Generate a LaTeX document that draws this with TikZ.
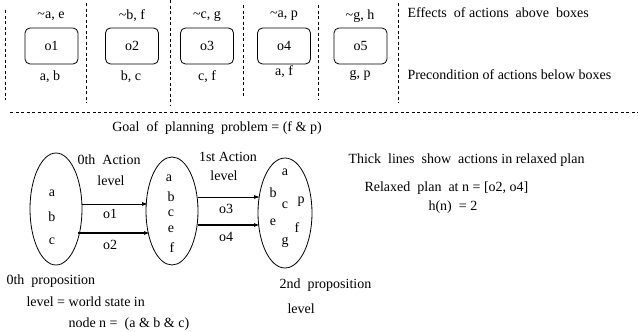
\documentclass[tikz,border=0pt]{standalone}
\usepackage{fontspec}
\setmainfont{Liberation Serif}
\usetikzlibrary{shapes.geometric,arrows.meta}

\tikzset{
  opbox/.style={draw, line width=0.8pt, rounded corners=5pt, minimum width=53pt, minimum height=36pt, inner sep=0pt},
  proplevel/.style={draw, line width=0.8pt, ellipse, inner sep=0pt},
  divider/.style={dash pattern=on 3pt off 2.5pt, line width=0.7pt},
  actarrow/.style={-{Latex[length=6pt,width=4pt]}, line width=0.8pt},
  relaxed/.style={-{Latex[length=6pt,width=4pt]}, line width=1.6pt},
}

\begin{document}
\begin{tikzpicture}[x=1pt, y=-1pt, font=\fontsize{14}{16}\selectfont]
  \useasboundingbox (0,0) rectangle (638,332);

  % top row: actions with effects and preconditions
  \draw[divider] (5,10) -- (5,100);
  \draw[divider] (86,3) -- (86,103);
  \draw[divider] (170,0) -- (170,105);
  \draw[divider] (243,5) -- (243,97);
  \draw[divider] (318,5) -- (318,100);
  \draw[divider] (398,3) -- (398,103);

  \node[opbox] (o1) at (51.5,46) {o1};
  \node[opbox] (o2) at (132,46) {o2};
  \node[opbox] (o3) at (207,46) {o3};
  \node[opbox] (o4) at (284,46) {o4};
  \node[opbox] (o5) at (360.5,46) {o5};

  \node (eff1) at (51,16) {\textasciitilde a, e};
  \node (eff2) at (132,16) {\textasciitilde b,\ f};
  \node (eff3) at (207,16) {\textasciitilde c,\ g};
  \node (eff4) at (284,16) {\textasciitilde a,\ p};
  \node (eff5) at (360,16) {\textasciitilde g,\ h};

  \node (pre1) at (50,77) {a,\ b};
  \node (pre2) at (131,77) {b,\ c};
  \node (pre3) at (207,77) {c,\ f};
  \node (pre4) at (284,72) {a,\ f};
  \node (pre5) at (360,75) {g,\ p};

  \node[anchor=west] (effnote) at (404,13) {Effects\ \ of actions\ \ above\ \ boxes};
  \node[anchor=west] (prenote) at (404,75) {Precondition of actions below boxes};

  \draw[divider] (10,112) -- (638,112);

  \node (goal) at (217,128) {Goal\ \ of\ \ planning\ \ problem = (f \& p)};

  % relaxed planning graph
  \node[proplevel, minimum width=52pt, minimum height=112pt] (p0) at (56,209) {};
  \node[proplevel, minimum width=52pt, minimum height=108pt] (p1) at (172,211) {};
  \node[proplevel, minimum width=54pt, minimum height=110pt] (p2) at (285,213) {};

  \node (p0a) at (52,193) {a};
  \node (p0b) at (52,217) {b};
  \node (p0c) at (52,241) {c};

  \node (p1a) at (169,178) {a};
  \node (p1b) at (171,197) {b};
  \node (p1c) at (171,213) {c};
  \node (p1e) at (171,229) {e};
  \node (p1f) at (172,248) {f};

  \node (p2a) at (285,172) {a};
  \node (p2b) at (273,193) {b};
  \node (p2c) at (285,205) {c};
  \node (p2p) at (301,202) {p};
  \node (p2e) at (273,222) {e};
  \node (p2f) at (297,228) {f};
  \node (p2g) at (285,242) {g};

  \coordinate (o1s) at (82,204);
  \coordinate (o1e) at (148,204);
  \coordinate (o2s) at (78,233);
  \coordinate (o2e) at (150,233);
  \coordinate (o3s) at (198,197);
  \coordinate (o3e) at (260,197);
  \coordinate (o4s) at (198,225);
  \coordinate (o4e) at (260,225);
  \draw[actarrow] (o1s) -- (o1e);
  \draw[relaxed] (o2s) -- (o2e);
  \draw[actarrow] (o3s) -- (o3e);
  \draw[relaxed] (o4s) -- (o4e);

  \node (act0) at (109,160) {0th\ \ Action};
  \node (act0lvl) at (111,181) {level};
  \node (lo1) at (110,214) {o1};
  \node (lo2) at (110,245) {o2};
  \node (act1) at (228,157) {1st Action};
  \node (act1lvl) at (224,176) {level};
  \node (lo3) at (226,209) {o3};
  \node (lo4) at (226,237) {o4};

  \node[anchor=west] (prop0) at (3,281) {0th\ \ proposition};
  \node[anchor=west] (prop0b) at (23,302) {level = world state in};
  \node[anchor=west] (prop0c) at (65,324) {node n =\ \ (a \& b \& c)};
  \node[anchor=west] (prop2) at (276,285) {2nd\ \ proposition};
  \node[anchor=west] (prop2b) at (284,309) {level};

  \node[anchor=west] (thick) at (345,160) {Thick\ \ lines\ \ show\ \ actions in relaxed plan};
  \node[anchor=west] (plan) at (361,188) {Relaxed\ \ plan\ \ at n = [o2, o4]};
  \node[anchor=west] (hn) at (425,207) {h(n)\ \ = 2};
\end{tikzpicture}
\end{document}
